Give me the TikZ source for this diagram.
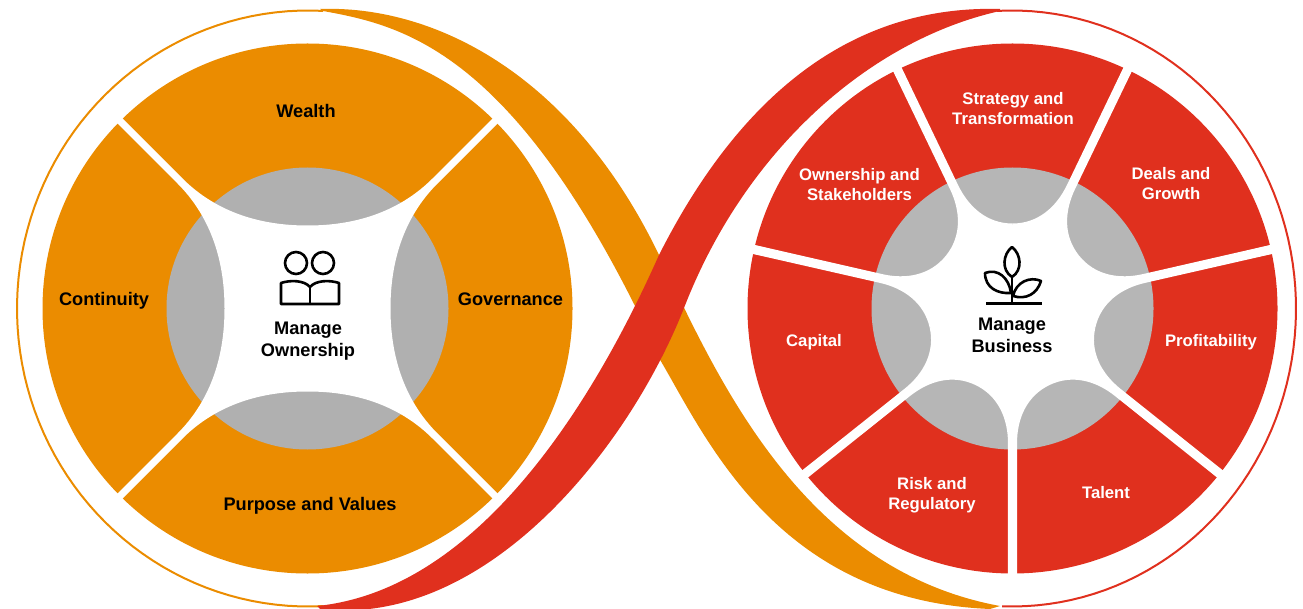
\documentclass[tikz,border=0pt]{standalone}
\usepackage{fontspec}
\setmainfont{Liberation Sans}
\definecolor{pworange}{HTML}{EB8C00}
\definecolor{pwred}{HTML}{E0301E}
\definecolor{greyl}{HTML}{B0B0B0}
\definecolor{greyr}{HTML}{B6B6B6}
\tikzset{
  blacklabel/.style={font=\bfseries\fontsize{18.2}{22}\selectfont,text=black,align=center,inner sep=0pt},
  whitelabel/.style={font=\bfseries\fontsize{16.7}{20}\selectfont,text=white,align=center,inner sep=0pt},
  iconline/.style={draw=black,line width=2.6pt,fill=none,line join=round}
}
\begin{document}
\begin{tikzpicture}[x=1pt,y=-1pt]
\useasboundingbox (0,0) rectangle (1303,609);
% thin rings
\draw[pworange,line width=2pt] plot[domain=87:273,samples=80] ({308+291*cos(\x)},{308.5-298*sin(\x)});
\draw[pwred,line width=2pt] plot[domain=93:-92,samples=80] ({1012+284*cos(\x)},{308.5-298*sin(\x)});
% orange ribbon
\fill[pworange] (320,9) .. controls (430,5) and (570,70) .. (659,255)
  .. controls (720,385) and (805,570) .. (1000,606) -- (990,609)
  .. controls (775,600) and (705,435) .. (659,358) -- (636,308)
  .. controls (506,48) and (400,25) .. (323,11) -- cycle;
% red ribbon
\fill[pwred] (1000,9) .. controls (860,5) and (745,85) .. (659,255)
  .. controls (590,410) and (475,590) .. (317,606) -- (320,609)
  .. controls (485,628) and (628,450) .. (684,308)
  .. controls (745,150) and (870,40) .. (1000,11) -- cycle;
% left wheel
\begin{scope}[shift={(307.5,308.5)}]
\fill[pworange] (0,0) circle[radius=265];
\fill[greyl] (0,0) circle[radius=141];
\fill[white] (0,-83) .. controls (30,-83) and (83,-88) .. (125,-130) -- (188,-193) -- (194,-189) -- (130,-125)
  .. controls (88,-83) and (83,-30) .. (83,0)
  .. controls (83,30) and (88,83) .. (130,125) -- (194,189) -- (188,193) -- (125,130)
  .. controls (83,88) and (30,83) .. (0,83)
  .. controls (-30,83) and (-83,88) .. (-125,130) -- (-188,193) -- (-194,189) -- (-130,125)
  .. controls (-88,83) and (-83,30) .. (-83,0)
  .. controls (-83,-30) and (-88,-83) .. (-130,-125) -- (-194,-189) -- (-188,-193) -- (-125,-130)
  .. controls (-83,-88) and (-30,-83) .. (0,-83) -- cycle;
\end{scope}
% right wheel
\begin{scope}[shift={(1012.5,308.5)}]
\fill[pwred] (0,0) circle[radius=265];
\fill[greyr] (0,0) circle[radius=141];
\foreach \k in {0,...,6}{
  \begin{scope}[rotate=\k*360/7]
  \fill[white] (0,0) -- (0,-85) .. controls (25,-85) and (43.7,-101) .. (54.5,-123.6) -- (113,-245.2) -- (121.1,-241.3) -- cycle;
  \fill[white] (0,0) -- (0,-85) .. controls (-25,-85) and (-43.7,-101) .. (-54.5,-123.6) -- (-113,-245.2) -- (-121.1,-241.3) -- cycle;
  \end{scope}
}
\fill[white] (0,0) circle[radius=84];
\end{scope}
% people icon
\draw[iconline] (296,263) circle[radius=11];
\draw[iconline] (323,263) circle[radius=11];
\draw[iconline] (310,304) -- (281,304) -- (281,283) .. controls (290,280) and (304,280) .. (310,287) .. controls (316,280) and (330,280) .. (339,283) -- (339,304) -- cycle;
\draw[iconline] (310,287) -- (310,304);
% plant icon
\draw[iconline] (1012,247) .. controls (1003,254) and (1001,270) .. (1012,277) .. controls (1023,270) and (1021,254) .. (1012,247) -- cycle;
\draw[iconline] (985,273) .. controls (998,268) and (1009,278) .. (1011,293) .. controls (998,294) and (985,288) .. (985,273) -- cycle;
\draw[iconline] (1041,281) .. controls (1030,276) and (1016,282) .. (1013,296) .. controls (1026,300) and (1037,294) .. (1041,281) -- cycle;
\draw[iconline] (1012,277) -- (1012,304);
\draw[black,line width=3pt] (986,304) -- (1042,304);
% labels
\node[blacklabel,anchor=base] (wealth) at (306,117.5) {Wealth};
\node[blacklabel,anchor=base] (continuity) at (104,306) {Continuity};
\node[blacklabel,anchor=base] (governance) at (510.5,306) {Governance};
\node[blacklabel,anchor=base] (purpose) at (310,510.5) {Purpose and Values};
\node[blacklabel] (mown) at (308,341) {Manage\\Ownership};
\node[blacklabel] (mbus) at (1012,335.5) {Manage\\Business};
\node[whitelabel] (strategy) at (1013,109) {Strategy and\\Transformation};
\node[whitelabel] (deals) at (1171,184) {Deals and\\Growth};
\node[whitelabel] (ownership) at (859.5,184.5) {Ownership and\\Stakeholders};
\node[whitelabel,anchor=base] (capital) at (814,346) {Capital};
\node[whitelabel,anchor=base] (profit) at (1211,346) {Profitability};
\node[whitelabel] (risk) at (932,495.5) {Risk and\\Regulatory};
\node[whitelabel,anchor=base] (talent) at (1106,498) {Talent};
\end{tikzpicture}
\end{document}
